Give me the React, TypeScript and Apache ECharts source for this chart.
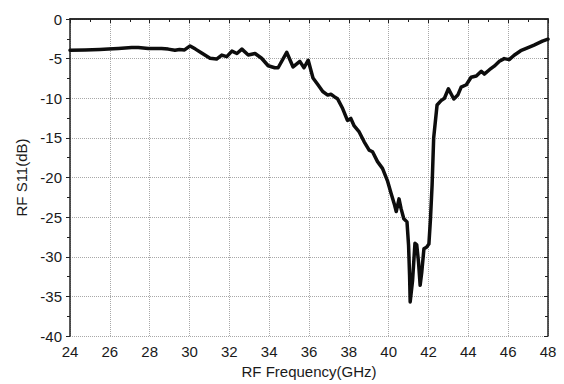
import React, { useEffect, useRef } from "react";
import * as echarts from "echarts";

const freqGHz = [
  24.0, 24.75, 25.5, 25.92, 26.43, 27.1, 27.43, 27.93, 28.6, 28.93, 29.27, 29.5, 29.75, 30.03, 30.3,
  30.61, 31.03, 31.36, 31.62, 31.87, 32.13, 32.38, 32.63, 32.95, 33.29, 33.62, 33.95, 34.28, 34.45,
  34.88, 35.2, 35.54, 35.75, 35.96, 36.2, 36.45, 36.69, 36.94, 37.1, 37.27, 37.43, 37.69, 37.93, 38.1,
  38.27, 38.52, 38.77, 39.02, 39.19, 39.44, 39.69, 39.95, 40.12, 40.3, 40.38, 40.52, 40.62, 40.76,
  40.92, 41.0, 41.05, 41.08, 41.2, 41.32, 41.41, 41.5, 41.58, 41.66, 41.77, 41.9, 42.02, 42.1, 42.18,
  42.26, 42.43, 42.63, 42.8, 43.0, 43.27, 43.47, 43.64, 43.9, 44.14, 44.4, 44.65, 44.8, 45.06, 45.3,
  45.56, 45.8, 46.05, 46.3, 46.63, 46.97, 47.3, 47.72, 48.0,
];

const s11dB = [
  -3.95, -3.9, -3.85, -3.8, -3.72, -3.6, -3.6, -3.72, -3.72, -3.8, -3.95, -3.85, -3.9, -3.4, -3.8,
  -4.3, -4.95, -5.05, -4.55, -4.75, -4.05, -4.35, -3.8, -4.55, -4.35, -4.95, -5.9, -6.15, -6.15,
  -4.2, -6.05, -5.35, -6.15, -5.2, -7.45, -8.3, -9.15, -9.6, -9.5, -9.8, -10.05, -11.3, -12.8, -12.55,
  -13.5, -14.25, -15.5, -16.55, -16.75, -18.0, -18.85, -20.5, -22.0, -23.5, -24.3, -22.7, -23.9, -25.2,
  -25.6, -28.6, -32.4, -35.7, -33.0, -28.3, -28.5, -30.7, -33.6, -32.0, -29.0, -28.8, -28.4, -25.2, -21.0,
  -15.0, -10.85, -10.3, -10.0, -8.8, -10.1, -9.6, -8.6, -8.3, -7.35, -7.2, -6.6, -6.95, -6.4, -5.95,
  -5.33, -5.0, -5.13, -4.57, -4.0, -3.65, -3.3, -2.8, -2.55,
];

const xRange = { min: 24, max: 48, interval: 2 };
const yRange = { min: -40, max: 0, interval: 5 };
const xTitle = "RF Frequency(GHz)";
const yTitle = "RF S11(dB)";

export default function App() {
  const ref = useRef<HTMLDivElement>(null);
  useEffect(() => {
    if (!ref.current) return;
    const chart = echarts.init(ref.current, null, { renderer: "svg" });
    const font = "Liberation Sans, Arial, sans-serif";
    const axisLine = { show: true, lineStyle: { color: "#222", width: 1.5 } };
    const split = { show: true, lineStyle: { color: "#a8a8a8", type: "dotted" as const, width: 1 } };
    chart.setOption({
      animation: false,
      backgroundColor: "#fff",
      grid: { left: 70, right: 16, top: 19, bottom: 48, containLabel: false },
      xAxis: [
        {
          type: "value",
          position: "bottom",
          ...xRange,
          name: xTitle,
          nameLocation: "middle",
          nameGap: 25,
          nameTextStyle: { fontFamily: font, fontSize: 15, color: "#1a1a1a" },
          axisLine,
          axisTick: { show: true, length: 4, lineStyle: { color: "#222" } },
          minorTick: { show: true, splitNumber: 2, length: 3, lineStyle: { color: "#222" } },
          axisLabel: { fontFamily: font, fontSize: 15, color: "#1a1a1a", margin: 8 },
          splitLine: split,
        },
        {
          type: "value",
          position: "top",
          ...xRange,
          axisLine,
          axisTick: { show: true, inside: true, length: 4, lineStyle: { color: "#222" } },
          minorTick: { show: true, splitNumber: 2, length: 3, lineStyle: { color: "#222" } },
          axisLabel: { show: false },
          splitLine: { show: false },
        },
      ],
      yAxis: [
        {
          type: "value",
          position: "left",
          ...yRange,
          name: yTitle,
          nameLocation: "middle",
          nameGap: 38,
          nameTextStyle: { fontFamily: font, fontSize: 15, color: "#1a1a1a" },
          axisLine,
          axisTick: { show: true, length: 4, lineStyle: { color: "#222" } },
          minorTick: { show: true, splitNumber: 2, length: 3, lineStyle: { color: "#222" } },
          axisLabel: { fontFamily: font, fontSize: 15, color: "#1a1a1a", margin: 8 },
          splitLine: split,
        },
        {
          type: "value",
          position: "right",
          ...yRange,
          axisLine,
          axisTick: { show: true, inside: true, length: 4, lineStyle: { color: "#222" } },
          minorTick: { show: true, splitNumber: 2, length: 3, lineStyle: { color: "#222" } },
          axisLabel: { show: false },
          splitLine: { show: false },
        },
      ],
      series: [
        {
          type: "line",
          xAxisIndex: 0,
          yAxisIndex: 0,
          data: freqGHz.map((f, i) => [f, s11dB[i]]),
          showSymbol: false,
          symbol: "none",
          lineStyle: { color: "#0d0d0d", width: 3.5, join: "round", cap: "round" },
        },
      ],
    });
    return () => chart.dispose();
  }, []);
  return (
    <div
      ref={ref}
      style={{ position: "fixed", left: 0, top: 0, width: 564, height: 384, background: "#fff" }}
    />
  );
}
